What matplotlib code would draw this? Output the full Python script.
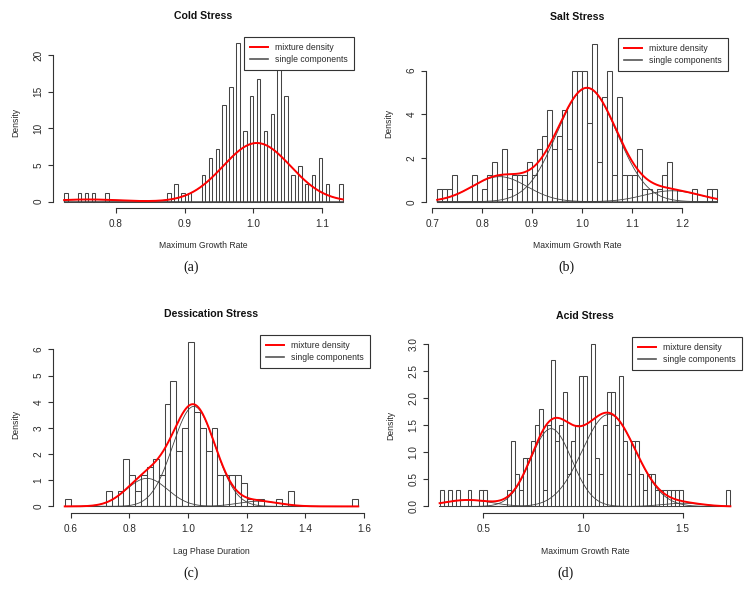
import numpy as np
import matplotlib
matplotlib.use("Agg")
import matplotlib.pyplot as plt
from matplotlib.lines import Line2D

# ---------------- data ----------------
# (a) Cold stress: bin width 0.005, only non-empty bins listed (left edges)
cold_breaks = (0.725, 1.13)
cold_width = 0.005
cold_left = [0.725, 0.745, 0.755, 0.765, 0.785, 0.875, 0.885, 0.895, 0.905,
             0.925, 0.935, 0.945, 0.955, 0.965, 0.975, 0.985, 0.995, 1.005,
             1.015, 1.025, 1.035, 1.045, 1.055, 1.065, 1.075, 1.085, 1.095,
             1.105, 1.125]
cold_density = [1.2, 1.2, 1.2, 1.2, 1.2, 1.2, 2.4, 1.2, 1.2,
                3.6, 6.0, 7.2, 13.2, 15.6, 21.6, 9.6, 14.4, 16.8,
                9.6, 12.0, 19.2, 14.4, 3.6, 4.8, 2.4, 3.6, 6.0,
                2.4, 2.4]
cold_means = [1.005, 0.76]
cold_sds = [0.049, 0.045]
cold_weights = [0.983, 0.034]

# (b) Salt stress: bin width 0.01 starting at 0.71
salt_start, salt_width = 0.71, 0.01
salt_density = [0.6, 0.6, 0.6, 1.2, 0, 0, 0, 1.2, 0, 0.6,
                1.2, 1.8, 1.2, 2.4, 0.6, 1.2, 1.2, 1.2, 1.8, 1.2,
                2.4, 3.0, 4.2, 2.4, 3.0, 4.2, 2.4, 6.0, 6.0, 6.0,
                3.6, 7.2, 1.8, 4.8, 6.0, 1.2, 4.8, 1.2, 1.2, 1.2,
                2.4, 0.6, 0.6, 0, 0.6, 1.2, 1.8, 0.6, 0, 0,
                0, 0.6, 0, 0, 0.6, 0.6]
salt_means = [0.835, 1.01, 1.18]
salt_sds = [0.055, 0.06, 0.055]
salt_weights = [0.158, 0.782, 0.069]

# (c) Dessication stress: bin width 0.02 starting at 0.58
dess_start, dess_width = 0.58, 0.02
dess_density = [0.3, 0, 0, 0, 0, 0, 0, 0.6, 0, 0.6,
                1.8, 1.2, 0.6, 1.2, 1.5, 1.8, 1.2, 3.9, 4.8, 2.1,
                3.0, 6.3, 3.6, 3.0, 2.1, 3.0, 1.2, 1.2, 1.2, 1.2,
                0.9, 0.3, 0.3, 0.3, 0, 0, 0.3, 0, 0.6, 0,
                0, 0, 0, 0, 0, 0, 0, 0, 0, 0.3]
dess_means = [0.86, 1.02, 1.24]
dess_sds = [0.07, 0.072, 0.07]
dess_weights = [0.188, 0.69, 0.035]

# (d) Acid stress: bin width 0.02 starting at 0.28
acid_start, acid_width = 0.28, 0.02
acid_density = [0.3, 0, 0.3, 0, 0.3, 0, 0, 0.3, 0, 0,
                0.3, 0.3, 0, 0, 0, 0, 0, 0.3, 1.2, 0.6,
                0.3, 0.9, 0.9, 1.2, 1.5, 1.8, 0.3, 1.5, 2.7, 1.2,
                1.5, 2.1, 0.6, 1.2, 1.5, 2.4, 2.4, 0.6, 3.0, 0.9,
                0.6, 1.5, 2.1, 2.1, 1.5, 2.4, 1.2, 0.6, 1.2, 1.2,
                0.6, 0.3, 0.6, 0.6, 0.3, 0.3, 0.3, 0.3, 0.3, 0.3,
                0.3, 0, 0, 0, 0, 0, 0, 0, 0, 0,
                0, 0, 0.3]
acid_means = [0.42, 0.84, 1.13, 1.5]
acid_sds = [0.12, 0.103, 0.134, 0.1]
acid_weights = [0.036, 0.37, 0.57, 0.015]

titles = ["Cold Stress", "Salt Stress", "Dessication Stress", "Acid Stress"]
xlabels = ["Maximum Growth Rate", "Maximum Growth Rate", "Lag Phase Duration",
           "Maximum Growth Rate"]
captions = ["(a)", "(b)", "(c)", "(d)"]
legend_labels = ["mixture density", "single components"]

xticks_a = [0.8, 0.9, 1.0, 1.1]
xticks_b = [0.7, 0.8, 0.9, 1.0, 1.1, 1.2]
xticks_c = [0.6, 0.8, 1.0, 1.2, 1.4, 1.6]
xticks_d = [0.5, 1.0, 1.5]
yticks_a = [0, 5, 10, 15, 20]
yticks_b = [0, 2, 4, 6]
yticks_c = [0, 1, 2, 3, 4, 5, 6]
yticks_d = [0.0, 0.5, 1.0, 1.5, 2.0, 2.5, 3.0]

# ---------------- drawing ----------------
W, H = 754, 600
fig = plt.figure(figsize=(W / 100, H / 100), dpi=100)
plt.rcParams["font.family"] = ["Liberation Sans", "DejaVu Sans"]
TXT = "#2a2a2a"
FS = 6.2
TFS = 7.2


def norm_pdf(x, m, s):
    return np.exp(-0.5 * ((x - m) / s) ** 2) / (s * np.sqrt(2 * np.pi))


def panel(box, lefts, width, dens, b0, b1, means, sds, weights, xticks,
          xtfmt, yticks, ytfmt, title, xlabel, caption, cap_xy):
    l, t, r, b = box
    ax = fig.add_axes([l / W, 1 - b / H, (r - l) / W, (b - t) / H])
    dens = np.asarray(dens, float)
    ymax = dens.max()
    rng = b1 - b0
    ax.set_xlim(b0 - 0.04 * rng, b1 + 0.04 * rng)
    ax.set_ylim(-0.04 * ymax, 1.04 * ymax)
    # baseline for empty bins
    ax.plot([b0, b1], [0, 0], color="#444444", lw=0.75, zorder=1)
    ax.bar(lefts, dens, width=width, align="edge", facecolor="white",
           edgecolor="#444444", linewidth=0.75, zorder=2)
    xs = np.linspace(b0, b1, 600)
    mix = np.zeros_like(xs)
    for m, s, w in zip(means, sds, weights):
        comp = w * norm_pdf(xs, m, s)
        mix += comp
        ax.plot(xs, comp, color="#404040", lw=0.6, zorder=3)
    ax.plot(xs, mix, color="#ff0000", lw=1.4, zorder=4)
    # R style axes
    for sp in ["top", "right"]:
        ax.spines[sp].set_visible(False)
    ax.spines["left"].set_bounds(yticks[0], yticks[-1])
    ax.spines["bottom"].set_bounds(xticks[0], xticks[-1])
    for sp in ["left", "bottom"]:
        ax.spines[sp].set_color("#333333")
        ax.spines[sp].set_linewidth(0.8)
    ax.set_xticks(xticks)
    ax.set_xticklabels([xtfmt.format(v) for v in xticks])
    ax.set_yticks(yticks)
    ax.set_yticklabels([ytfmt.format(v) for v in yticks], rotation=90,
                       va="center")
    ax.tick_params(axis="both", length=3.5, width=0.8, color="#333333",
                   labelsize=TFS, labelcolor=TXT)
    ax.tick_params(axis="x", pad=4.5)
    ax.tick_params(axis="y", pad=3.5)
    ax.set_facecolor("none")
    # texts
    cx = (l + r) / 2
    fig.text(cx / W, 1 - (t - 21) / H, title, ha="center", va="center",
             fontsize=7.6, fontweight="bold", color="#111111")
    fig.text(cx / W, 1 - (b + 38) / H, xlabel, ha="center", va="center",
             fontsize=FS, color=TXT)
    fig.text((l - 37) / W, 1 - ((t + b) / 2) / H, "Density", ha="center",
             va="center", rotation=90, fontsize=FS, color=TXT)
    fig.text(cap_xy[0] / W, 1 - cap_xy[1] / H, caption, ha="center",
             va="center", fontsize=10,
             family=["Liberation Serif", "DejaVu Serif"], color="#111111")
    handles = [Line2D([], [], color="#ff0000", lw=1.4),
               Line2D([], [], color="#555555", lw=1.2)]
    leg = ax.legend(handles, legend_labels, loc="upper right",
                    bbox_to_anchor=(1, 1), borderaxespad=0, fontsize=FS,
                    frameon=True, fancybox=False, framealpha=1,
                    edgecolor="#333333", handlelength=2.1, handletextpad=0.8,
                    borderpad=0.7, labelspacing=0.33)
    leg.get_frame().set_linewidth(0.8)
    for tx in leg.get_texts():
        tx.set_color(TXT)
    return ax


panel((53, 37, 354, 208), cold_left, cold_width, cold_density,
      cold_breaks[0], cold_breaks[1], cold_means, cold_sds, cold_weights,
      xticks_a, "{:.1f}", yticks_a, "{:d}", titles[0], xlabels[0],
      captions[0], (191, 267))

salt_left = salt_start + salt_width * np.arange(len(salt_density))
panel((426, 38, 728, 208), salt_left, salt_width, salt_density,
      salt_start, salt_start + salt_width * len(salt_density),
      salt_means, salt_sds, salt_weights,
      xticks_b, "{:.1f}", yticks_b, "{:d}", titles[1], xlabels[1],
      captions[1], (566, 267))

dess_left = dess_start + dess_width * np.arange(len(dess_density))
panel((53, 335, 370, 513), dess_left, dess_width, dess_density,
      dess_start, dess_start + dess_width * len(dess_density),
      dess_means, dess_sds, dess_weights,
      xticks_c, "{:.1f}", yticks_c, "{:d}", titles[2], xlabels[2],
      captions[2], (191, 573))

acid_left = acid_start + acid_width * np.arange(len(acid_density))
panel((428, 337, 742, 513), acid_left, acid_width, acid_density,
      acid_start, acid_start + acid_width * len(acid_density),
      acid_means, acid_sds, acid_weights,
      xticks_d, "{:.1f}", yticks_d, "{:.1f}", titles[3], xlabels[3],
      captions[3], (566, 573))

fig.savefig("out.png", dpi=100, facecolor="white")
